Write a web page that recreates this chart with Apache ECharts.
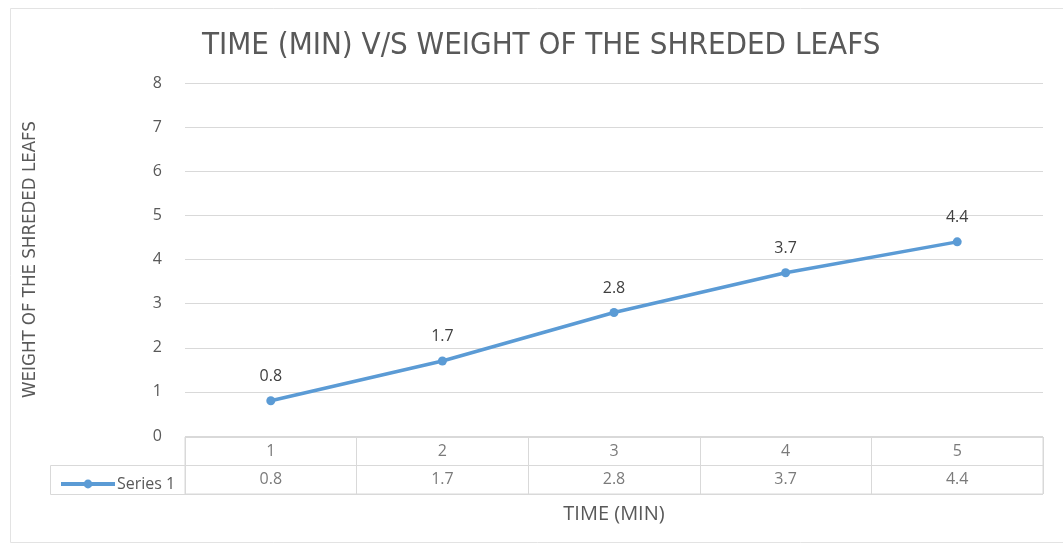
<!DOCTYPE html>
<html><head><meta charset="utf-8">
<script src="https://cdn.jsdelivr.net/npm/echarts@6/dist/echarts.min.js"></script>
<style>html,body{margin:0;padding:0;background:#fff}#c{width:1063px;height:545px}</style>
</head><body><div id="c"></div>
<script>
var categories = ['1', '2', '3', '4', '5'];
var seriesName = 'Series 1';
var values = [0.8, 1.7, 2.8, 3.7, 4.4];
var yTicks = [0, 1, 2, 3, 4, 5, 6, 7, 8];
var titleText = 'TIME (MIN) V/S WEIGHT OF THE SHREDED LEAFS';
var xName = 'TIME (MIN)';
var yName = 'WEIGHT OF THE SHREDED LEAFS';

var chart = echarts.init(document.getElementById('c'));
var narrow = '"Liberation Sans Narrow", "DejaVu Sans Condensed", sans-serif';
var txt = '#595959';
var gridC = '#d9d9d9';
var blue = '#5b9bd5';

var option = {
  animation: false,
  title: {
    text: titleText, left: 197, top: 25,
    textStyle: { fontFamily: narrow, fontSize: 31, fontWeight: 'normal', color: txt }
  },
  legend: {
    show: true, left: 54, top: 471, itemWidth: 54, itemHeight: 11, itemGap: 0,
    data: [seriesName],
    lineStyle: { width: 4 },
    textStyle: { fontFamily: 'Open Sans', fontSize: 16, color: txt, padding: [0, 0, 0, -3] }
  },
  graphic: [
    { type: 'rect', shape: { x: 10.5, y: 8.5, width: 1060, height: 534 }, style: { fill: 'none', stroke: '#e3e3e3', lineWidth: 1 }, silent: true },
    { type: 'rect', shape: { x: 50.5, y: 465.5, width: 135, height: 29 }, style: { fill: 'none', stroke: gridC, lineWidth: 1 }, silent: true }
  ],
  grid: [
    { left: 185, right: 20, top: 83, bottom: 109 },
    { left: 185, right: 20, top: 437, height: 57, show: true, borderColor: gridC, borderWidth: 1, backgroundColor: 'transparent' }
  ],
  xAxis: [
    {
      gridIndex: 0, type: 'category', data: categories, boundaryGap: true,
      axisLine: { show: false }, axisTick: { show: false }, axisLabel: { show: false },
      name: xName, nameLocation: 'middle', nameGap: 68,
      nameTextStyle: { fontFamily: 'Open Sans', fontSize: 20, color: txt }
    },
    {
      gridIndex: 1, type: 'category', data: categories, boundaryGap: true,
      axisLine: { show: false }, axisTick: { show: false }, axisLabel: { show: false },
      splitLine: { show: true, interval: 0, lineStyle: { color: gridC, width: 1 } }
    }
  ],
  yAxis: [
    {
      gridIndex: 0, type: 'value', min: 0, max: 8, interval: 1,
      axisLine: { show: false }, axisTick: { show: false },
      axisLabel: { fontFamily: 'Open Sans', fontSize: 16, color: txt, margin: 23,
        formatter: function (v) { return yTicks.indexOf(v) >= 0 ? String(v) : ''; } },
      splitLine: { lineStyle: { color: gridC, width: 1 } },
      name: yName, nameLocation: 'middle', nameRotate: 90, nameGap: 145,
      nameTextStyle: { fontFamily: narrow, fontSize: 18.5, color: txt }
    },
    {
      gridIndex: 1, type: 'value', min: 0, max: 2, interval: 1,
      axisLine: { show: false }, axisTick: { show: false }, axisLabel: { show: false },
      splitLine: { show: true, lineStyle: { color: gridC, width: 1 } }
    }
  ],
  series: [
    {
      name: seriesName, type: 'line', xAxisIndex: 0, yAxisIndex: 0,
      data: values, symbol: 'circle', symbolSize: 9,
      lineStyle: { color: blue, width: 3.5 }, itemStyle: { color: blue },
      label: { show: true, position: 'top', distance: 12, fontFamily: 'Open Sans', fontSize: 16, color: '#404040' }
    },
    {
      type: 'scatter', xAxisIndex: 1, yAxisIndex: 1, silent: true,
      symbolSize: 1, itemStyle: { color: 'rgba(0,0,0,0)' },
      data: categories.map(function (c, i) { return [i, 1.5]; }),
      label: { show: true, position: 'inside', fontFamily: 'Open Sans', fontSize: 16, color: txt,
        formatter: function (p) { return categories[p.dataIndex]; } }
    },
    {
      type: 'scatter', xAxisIndex: 1, yAxisIndex: 1, silent: true,
      symbolSize: 1, itemStyle: { color: 'rgba(0,0,0,0)' },
      data: values.map(function (v, i) { return [i, 0.5]; }),
      label: { show: true, position: 'inside', fontFamily: 'Open Sans', fontSize: 16, color: txt,
        formatter: function (p) { return String(values[p.dataIndex]); } }
    }
  ]
};
chart.setOption(option);
</script>
</body></html>
